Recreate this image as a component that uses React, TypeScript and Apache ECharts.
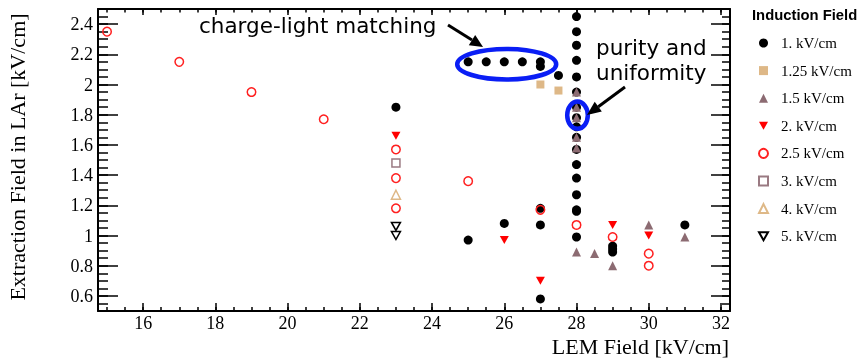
import React, { useEffect, useRef } from "react";
import * as echarts from "echarts";

// ---- axis ticks ----
const xMajorTicks = [16, 18, 20, 22, 24, 26, 28, 30, 32];
const yMajorTicks = [0.6, 0.8, 1, 1.2, 1.4, 1.6, 1.8, 2, 2.2, 2.4];
const xRange = [14.75, 32.25];
const yRange = [0.5, 2.5];

// ---- legend / series names ----
const legendTitle = "Induction Field";
const seriesNames = [
  "1. kV/cm",
  "1.25 kV/cm",
  "1.5 kV/cm",
  "2. kV/cm",
  "2.5 kV/cm",
  "3. kV/cm",
  "4. kV/cm",
  "5. kV/cm",
];

// ---- data: [LEM field, extraction field] ----
const ind1p0: [number, number][] = [
  [23, 1.85], [25, 0.97], [26, 1.08], [27, 1.07], [27, 1.18], [27, 0.58],
  [25, 2.15], [25.5, 2.15], [26, 2.15], [26.5, 2.15], [27, 2.15], [27, 2.12], [27.5, 2.06],
  [28, 2.45], [28, 2.35], [28, 2.26], [28, 2.16], [28, 2.05], [28, 1.95], [28, 1.85],
  [28, 1.78], [28, 1.72], [28, 1.65], [28, 1.57], [28, 1.47], [28, 1.38], [28, 1.27],
  [28, 1.17], [28, 1.16], [28, 0.99],
  [29, 0.93], [29, 0.91], [29, 0.89], [31, 1.07],
];
const ind1p25: [number, number][] = [[27, 2.0], [27.5, 1.96]];
const ind1p5: [number, number][] = [
  [28, 1.95], [28, 1.85], [28, 1.78], [28, 1.65], [28, 1.58],
  [28, 0.89], [28.5, 0.88], [29, 0.8], [30, 1.07], [31, 0.99],
];
const ind2p0: [number, number][] = [[23, 1.66], [26, 0.97], [27, 0.7], [29, 1.07], [30, 1.0]];
const ind2p5: [number, number][] = [
  [15, 2.35], [17, 2.15], [19, 1.95], [21, 1.77], [23, 1.57], [23, 1.38], [23, 1.18],
  [25, 1.36], [27, 1.17], [28, 1.07], [29, 0.99], [30, 0.88], [30, 0.8],
];
const ind3p0: [number, number][] = [[23, 1.48]];
const ind4p0: [number, number][] = [[23, 1.27]];
const ind5p0: [number, number][] = [[23, 1.06], [23, 1.0]];

// ---- annotations ----
const noteMatching = "charge-light matching";
const notePurity = ["purity and", "uniformity"];

const SERIF = "'Liberation Serif', 'Times New Roman', serif";
const SANS = "'Liberation Sans', Arial, sans-serif";
const DEJAVU = "'DejaVu Sans', sans-serif";

const DOWN = "path://M0,0L10,0L5,9Z";
const MAUVE = "#8c6b72";
const TAN = "#deb887";
const RED = "#ff0000";
const BLUE = "#0a1ef5";

function minorList(a: number, b: number, step: number) {
  const out: number[] = [];
  for (let v = a; v <= b + 1e-9; v += step) out.push(Math.round(v * 1000) / 1000);
  return out;
}

function arrow(x0: number, y0: number, x1: number, y1: number, headLen: number, headHalf: number) {
  const dx = x1 - x0, dy = y1 - y0;
  const len = Math.hypot(dx, dy);
  const ux = dx / len, uy = dy / len;
  const bx = x1 - ux * headLen, by = y1 - uy * headLen;
  const nx = -uy, ny = ux;
  return [
    { type: "line", shape: { x1: x0, y1: y0, x2: bx, y2: by }, style: { stroke: "#000", lineWidth: 3 }, z: 100 },
    {
      type: "polygon",
      shape: { points: [[x1, y1], [bx + nx * headHalf, by + ny * headHalf], [bx - nx * headHalf, by - ny * headHalf]] },
      style: { fill: "#000" },
      z: 100,
    },
  ];
}

export default function App() {
  const ref = useRef<HTMLDivElement>(null);
  useEffect(() => {
    if (!ref.current) return;
    const chart = echarts.init(ref.current, undefined, { renderer: "svg" });
    const xMinor = minorList(15, 32, 0.5);
    const yMinor = minorList(0.5, 2.5, 0.05);

    const baseX = { type: "value", min: xRange[0], max: xRange[1], splitLine: { show: false }, gridIndex: 0 };
    const baseY = { type: "value", min: yRange[0], max: yRange[1], splitLine: { show: false }, gridIndex: 0 };
    const line = { show: true, lineStyle: { color: "#000", width: 2 } };
    const noLine = { show: false };
    const noLabel = { show: false };

    const mk = (
      name: string,
      data: [number, number][],
      symbol: string,
      size: number | number[],
      fill: string,
      stroke?: string
    ) => ({
      name,
      type: "scatter",
      data,
      symbol,
      symbolSize: size,
      xAxisIndex: 0,
      yAxisIndex: 0,
      itemStyle: stroke
        ? { color: "rgba(0,0,0,0)", borderColor: stroke, borderWidth: 1.5, opacity: 1 }
        : { color: fill, opacity: 1 },
      emphasis: { disabled: true },
      z: 5,
    });

    chart.setOption({
      animation: false,
      grid: { left: 98, top: 9, width: 632, height: 302 },
      xAxis: [
        {
          ...baseX, position: "bottom", axisLine: line,
          axisTick: { show: true, inside: true, length: 8, customValues: xMajorTicks, lineStyle: { color: "#000", width: 1.5 } },
          axisLabel: { show: true, customValues: xMajorTicks, margin: 3, color: "#000", fontFamily: SERIF, fontSize: 18 },
        },
        {
          ...baseX, position: "bottom", axisLine: noLine,
          axisTick: { show: true, inside: true, length: 4, customValues: xMinor, lineStyle: { color: "#000", width: 1.5 } },
          axisLabel: noLabel,
        },
        {
          ...baseX, position: "top", axisLine: line,
          axisTick: { show: true, inside: true, length: 6, customValues: xMajorTicks, lineStyle: { color: "#000", width: 1.5 } },
          axisLabel: noLabel,
        },
        {
          ...baseX, position: "top", axisLine: noLine,
          axisTick: { show: true, inside: true, length: 3.5, customValues: xMinor, lineStyle: { color: "#000", width: 1.5 } },
          axisLabel: noLabel,
        },
      ],
      yAxis: [
        {
          ...baseY, position: "left", axisLine: line,
          axisTick: { show: true, inside: true, length: 20, customValues: yMajorTicks, lineStyle: { color: "#000", width: 1.5 } },
          axisLabel: { show: true, customValues: yMajorTicks, margin: 5, color: "#000", fontFamily: SERIF, fontSize: 18 },
        },
        {
          ...baseY, position: "left", axisLine: noLine,
          axisTick: { show: true, inside: true, length: 10, customValues: yMinor, lineStyle: { color: "#000", width: 1.5 } },
          axisLabel: noLabel,
        },
        {
          ...baseY, position: "right", axisLine: line,
          axisTick: { show: true, inside: true, length: 19, customValues: yMajorTicks, lineStyle: { color: "#000", width: 1.5 } },
          axisLabel: noLabel,
        },
        {
          ...baseY, position: "right", axisLine: noLine,
          axisTick: { show: true, inside: true, length: 8, customValues: yMinor, lineStyle: { color: "#000", width: 1.5 } },
          axisLabel: noLabel,
        },
      ],
      title: {
        text: legendTitle,
        left: 752,
        top: 7,
        padding: 0,
        textStyle: { fontFamily: SANS, fontWeight: "bold", fontSize: 14.8, color: "#000" },
      },
      legend: {
        orient: "vertical",
        left: 758,
        top: 33,
        padding: 0,
        itemWidth: 9,
        itemHeight: 9,
        itemGap: 7.6,
        selectedMode: false,
        data: seriesNames,
        textStyle: { fontFamily: SERIF, fontSize: 15, color: "#000", lineHeight: 20, padding: [0, 0, 0, 8] },
      },
      series: [
        mk(seriesNames[0], ind1p0, "circle", 9, "#000"),
        mk(seriesNames[1], ind1p25, "rect", 8, TAN),
        mk(seriesNames[2], ind1p5, "triangle", 9, MAUVE),
        mk(seriesNames[3], ind2p0, DOWN, [9, 8], RED),
        mk(seriesNames[4], ind2p5, "circle", 8.5, "", "#ff2020"),
        mk(seriesNames[5], ind3p0, "rect", 8, "", "#9a7a82"),
        mk(seriesNames[6], ind4p0, "triangle", 9, "", TAN),
        mk(seriesNames[7], ind5p0, DOWN, [9, 8], "", "#000"),
      ],
      graphic: [
        {
          type: "text", x: 17, y: 157, rotation: Math.PI / 2,
          style: { text: "Extraction Field in LAr [kV/cm]", fontFamily: SERIF, fontSize: 22, fill: "#000", textAlign: "center", textVerticalAlign: "middle" },
        },
        {
          type: "text", x: 729, y: 346,
          style: { text: "LEM Field [kV/cm]", fontFamily: SERIF, fontSize: 22, fill: "#000", textAlign: "right", textVerticalAlign: "middle" },
        },
        {
          type: "text", x: 199, y: 25, z: 100,
          style: { text: noteMatching, fontFamily: DEJAVU, fontSize: 21.5, fill: "#000", textAlign: "left", textVerticalAlign: "middle" },
        },
        {
          type: "text", x: 596, y: 47, z: 100,
          style: { text: notePurity[0], fontFamily: DEJAVU, fontSize: 21.5, fill: "#000", textAlign: "left", textVerticalAlign: "middle" },
        },
        {
          type: "text", x: 596, y: 72, z: 100,
          style: { text: notePurity[1], fontFamily: DEJAVU, fontSize: 21.5, fill: "#000", textAlign: "left", textVerticalAlign: "middle" },
        },
        {
          type: "ellipse", z: 100,
          shape: { cx: 506.7, cy: 64.2, rx: 49.5, ry: 15.3 },
          style: { fill: "none", stroke: BLUE, lineWidth: 4.5 },
        },
        {
          type: "ellipse", z: 100,
          shape: { cx: 577.5, cy: 115.2, rx: 10.3, ry: 13.6 },
          style: { fill: "none", stroke: BLUE, lineWidth: 4.5 },
        },
        ...arrow(448, 25, 483, 47, 13, 6),
        ...arrow(625, 87, 587, 115, 14, 6),
      ],
    });
    return () => chart.dispose();
  }, []);
  return <div ref={ref} style={{ position: "fixed", left: 0, top: 0, width: 859, height: 358 }} />;
}
